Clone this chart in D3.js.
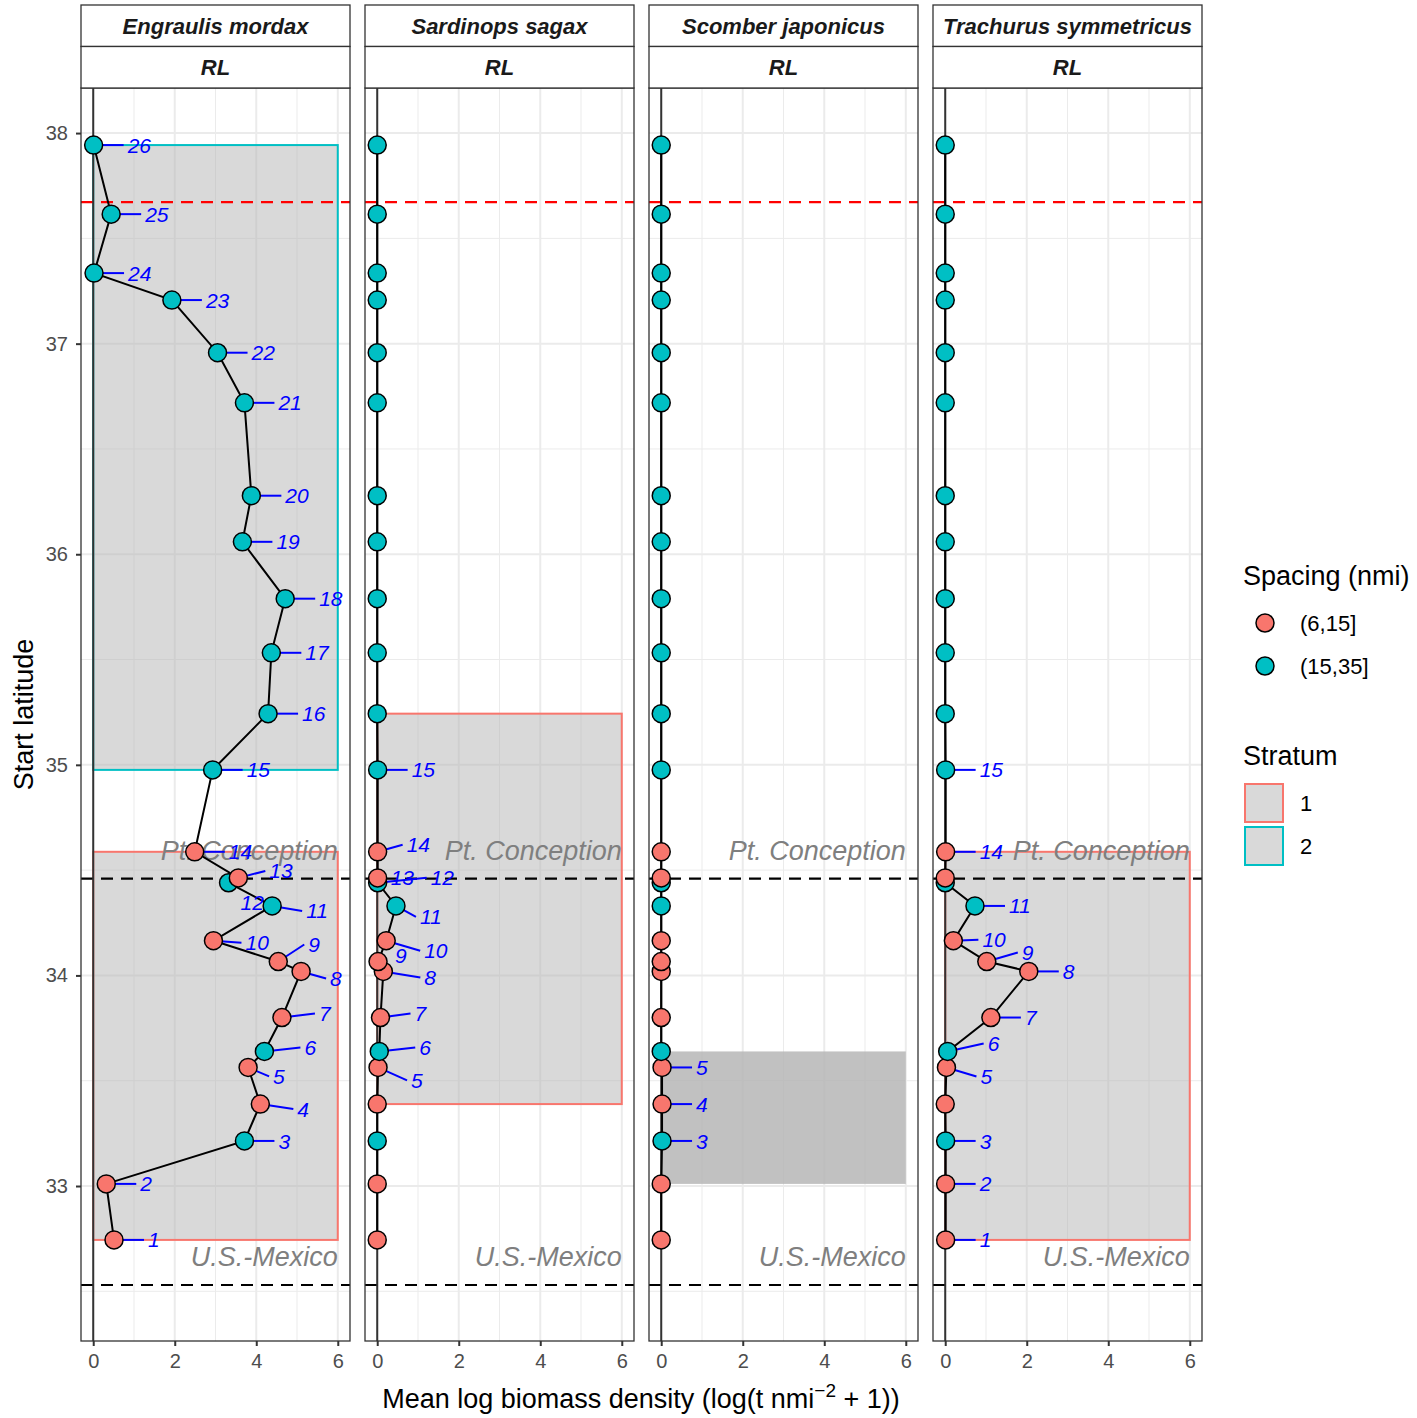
<!DOCTYPE html>
<html lang="en">
<head>
<meta charset="UTF-8">
<title>Biomass by latitude</title>
<script src="https://d3js.org/d3.v7.min.js"></script>
<style>
  body { margin: 0; background: #fff; }
  text { font-family: "Liberation Sans", Arial, Helvetica, sans-serif; }
</style>
</head>
<body>
<svg width="1417" height="1418"></svg>
<script>
// ---- data ----
const species = ["Engraulis mordax", "Sardinops sagax", "Scomber japonicus", "Trachurus symmetricus"];
const transects = d3.range(1, 27);
const latitude = [32.744, 33.010, 33.214, 33.389, 33.563, 33.639, 33.800, 34.019, 34.066, 34.165,
                  34.330, 34.440, 34.463, 34.587, 34.976, 35.243, 35.532, 35.789, 36.059, 36.278,
                  36.719, 36.957, 37.207, 37.335, 37.615, 37.943];
const spacing = ["(6,15]", "(6,15]", "(15,35]", "(6,15]", "(6,15]", "(15,35]", "(6,15]", "(6,15]", "(6,15]", "(6,15]",
                 "(15,35]", "(15,35]", "(6,15]", "(6,15]", "(15,35]", "(15,35]", "(15,35]", "(15,35]", "(15,35]", "(15,35]",
                 "(15,35]", "(15,35]", "(15,35]", "(15,35]", "(15,35]", "(15,35]"];
const biomassEngraulis = [0.51, 0.32, 3.71, 4.10, 3.80, 4.20, 4.63, 5.10, 4.54, 2.95,
                          4.39, 3.32, 3.56, 2.49, 2.93, 4.29, 4.37, 4.71, 3.66, 3.88,
                          3.71, 3.05, 1.93, 0.02, 0.44, 0.01];
const biomassSardinops = [0, 0, 0, 0, 0.02, 0.05, 0.08, 0.15, 0.02, 0.22,
                          0.46, 0.01, 0.01, 0.01, 0.01, 0, 0, 0, 0, 0,
                          0, 0, 0, 0, 0, 0];
const biomassScomber = [0, 0, 0.02, 0.02, 0.02, 0, 0, 0, 0, 0,
                        0, 0, 0, 0, 0, 0, 0, 0, 0, 0,
                        0, 0, 0, 0, 0, 0];
const biomassTrachurus = [0.01, 0.01, 0.01, 0, 0.03, 0.06, 1.12, 2.05, 1.02, 0.20,
                          0.73, 0, 0, 0.01, 0.01, 0, 0, 0, 0, 0,
                          0, 0, 0, 0, 0, 0];
const biomassBySpecies = [biomassEngraulis, biomassSardinops, biomassScomber, biomassTrachurus];

// strata boxes (one row per box)
const strataSpecies = [0, 0, 1, 2, 3];
const strataId = ["2", "1", "1", "3", "1"];
const strataNorth = [37.943, 34.587, 35.243, 33.639, 34.587];
const strataSouth = [34.976, 32.744, 33.389, 33.010, 32.744];
const strataMax = 6;

const boundaryLat = [37.672, 34.46, 32.53];
const boundaryColor = ["red", "black", "black"];
const landmarkName = ["Pt. Conception", "U.S.-Mexico"];
const landmarkLat = [34.46, 32.53];

const spacingLevels = ["(6,15]", "(15,35]"];
const stratumLevels = ["1", "2"];
const xTicks = [0, 2, 4, 6];
const yTicks = [33, 34, 35, 36, 37, 38];

// label nudges (pixels) that ggrepel produced
const nudge = {
  "0-13": [31, -7], "0-12": [12, 20], "0-11": [34, 5], "0-10": [32, 2], "0-9": [30, -17],
  "0-8": [29, 7], "0-7": [37, -4], "0-6": [40, -4], "0-5": [25, 9], "0-4": [37, 5],
  "1-14": [29, -7], "1-13": [13, 0], "1-12": [53, -5], "1-11": [24, 11], "1-10": [38, 10],
  "1-9": [17, -6], "1-8": [41, 6], "1-7": [34, -4], "1-6": [40, -4], "1-5": [33, 13],
  "3-10": [29, -1], "3-9": [35, -9], "3-6": [40, -8], "3-5": [34, 9]
};

// ---- layout ----
const svg = d3.select("svg");
const panelTop = 88, panelBottom = 1341, panelW = 269;
const panelLeft = [81, 365, 649, 933];
const stripH = 41.5;
const red = "#F8766D", cyan = "#00BFC4";
const fillColor = d3.scaleOrdinal().domain(spacingLevels).range([red, cyan]);
const strokeColor = d3.scaleOrdinal().domain(stratumLevels).range([red, cyan]);

const y = d3.scaleLinear().domain([32.264, 38.214]).range([panelBottom, panelTop]);

species.forEach((sp, s) => {
  const left = panelLeft[s];
  const x = d3.scaleLinear().domain([-0.3, 6.3]).range([left, left + panelW]);
  const g = svg.append("g");
  const vals = biomassBySpecies[s];
  const pts = transects.map((t, i) => ({t: t, lat: latitude[i], v: vals[i], sp: spacing[i]}));

  // grid
  const minorX = [1, 3, 5], minorY = d3.range(32.5, 38.6, 1);
  g.selectAll(".gxm").data(minorX).join("line")
    .attr("x1", d => x(d)).attr("x2", d => x(d)).attr("y1", panelTop).attr("y2", panelBottom)
    .attr("stroke", "#ebebeb").attr("stroke-width", 1);
  g.selectAll(".gym").data(minorY).join("line")
    .attr("x1", left).attr("x2", left + panelW).attr("y1", d => y(d)).attr("y2", d => y(d))
    .attr("stroke", "#ebebeb").attr("stroke-width", 1);
  g.selectAll(".gx").data(xTicks).join("line")
    .attr("x1", d => x(d)).attr("x2", d => x(d)).attr("y1", panelTop).attr("y2", panelBottom)
    .attr("stroke", "#ebebeb").attr("stroke-width", 2);
  g.selectAll(".gy").data(yTicks).join("line")
    .attr("x1", left).attr("x2", left + panelW).attr("y1", d => y(d)).attr("y2", d => y(d))
    .attr("stroke", "#ebebeb").attr("stroke-width", 2);

  // strata
  strataSpecies.forEach((ss, k) => {
    if (ss !== s) return;
    const known = stratumLevels.includes(strataId[k]);
    g.append("rect")
      .attr("x", x(0)).attr("width", x(strataMax) - x(0))
      .attr("y", y(strataNorth[k])).attr("height", y(strataSouth[k]) - y(strataNorth[k]))
      .attr("fill", "#b3b3b3").attr("fill-opacity", known ? 0.5 : 0.82)
      .attr("stroke", known ? strokeColor(strataId[k]) : "none").attr("stroke-width", 2);
  });

  // boundary lines
  boundaryLat.forEach((b, k) => {
    g.append("line").attr("x1", left).attr("x2", left + panelW)
      .attr("y1", y(b)).attr("y2", y(b))
      .attr("stroke", boundaryColor[k]).attr("stroke-width", 2.2).attr("stroke-dasharray", "12,8");
  });

  // zero line
  g.append("line").attr("x1", x(0)).attr("x2", x(0)).attr("y1", panelTop).attr("y2", panelBottom)
    .attr("stroke", "#333").attr("stroke-width", 2);

  // landmark text
  landmarkName.forEach((n, k) => {
    g.append("text").attr("x", x(6)).attr("y", y(landmarkLat[k]) - 19)
      .attr("text-anchor", "end").attr("font-size", 27).attr("font-style", "italic")
      .attr("fill", "#7f7f7f").text(n);
  });

  // path
  const line = d3.line().x(d => x(d.v)).y(d => y(d.lat));
  g.append("path").datum(pts.slice().sort((a, b) => a.lat - b.lat))
    .attr("d", line).attr("fill", "none").attr("stroke", "black").attr("stroke-width", 2);

  // label segments + labels
  const labeled = pts.filter(d => d.v > 0);
  labeled.forEach(d => {
    const n = nudge[s + "-" + d.t] || [34, 0];
    const px = x(d.v), py = y(d.lat);
    const lx = px + n[0], ly = py + n[1];
    if (n[0] > 20) {
      g.append("line").attr("x1", px).attr("y1", py).attr("x2", lx - 4).attr("y2", ly)
        .attr("stroke", "blue").attr("stroke-width", 2);
    }
  });

  // points
  g.selectAll("circle").data(pts).join("circle")
    .attr("cx", d => x(d.v)).attr("cy", d => y(d.lat)).attr("r", 9)
    .attr("fill", d => fillColor(d.sp)).attr("stroke", "black").attr("stroke-width", 1.5);

  labeled.forEach(d => {
    const n = nudge[s + "-" + d.t] || [34, 0];
    g.append("text").attr("x", x(d.v) + n[0]).attr("y", y(d.lat) + n[1])
      .attr("dy", "0.36em").attr("font-size", 21).attr("font-style", "italic")
      .attr("fill", "blue").text(d.t);
  });

  // panel border
  g.append("rect").attr("x", left).attr("y", panelTop).attr("width", panelW)
    .attr("height", panelBottom - panelTop).attr("fill", "none").attr("stroke", "#333").attr("stroke-width", 1.3);

  // strips
  [sp, "RL"].forEach((lab, k) => {
    const top = 5 + k * stripH;
    g.append("rect").attr("x", left).attr("y", top).attr("width", panelW).attr("height", stripH)
      .attr("fill", "white").attr("stroke", "#333").attr("stroke-width", 1.3);
    g.append("text").attr("x", left + panelW / 2).attr("y", top + stripH / 2).attr("dy", "0.36em")
      .attr("text-anchor", "middle").attr("font-size", 22).attr("font-weight", "bold")
      .attr("font-style", "italic").attr("fill", "#1a1a1a").text(lab);
  });

  // x axis
  const ax = svg.append("g").attr("transform", `translate(0,${panelBottom})`)
    .call(d3.axisBottom(x).tickValues(xTicks).tickSize(5).tickPadding(8).tickFormat(d3.format("d")));
  ax.select(".domain").remove();
  ax.selectAll(".tick line").attr("stroke", "#333").attr("stroke-width", 2);
  ax.selectAll(".tick text").attr("font-size", 20).attr("fill", "#4d4d4d");

  if (s === 0) {
    const ay = svg.append("g").attr("transform", `translate(${left},0)`)
      .call(d3.axisLeft(y).tickValues(yTicks).tickSize(5).tickPadding(8).tickFormat(d3.format("d")));
    ay.select(".domain").remove();
    ay.selectAll(".tick line").attr("stroke", "#333").attr("stroke-width", 2);
    ay.selectAll(".tick text").attr("font-size", 20).attr("fill", "#4d4d4d");
  }
});

// axis titles
svg.append("text").attr("transform", `translate(33,${(panelTop + panelBottom) / 2}) rotate(-90)`)
  .attr("text-anchor", "middle").attr("font-size", 27).text("Start latitude");
const xt = svg.append("text").attr("x", 641).attr("y", 1408).attr("text-anchor", "middle").attr("font-size", 27);
xt.append("tspan").text("Mean log biomass density (log(t nmi");
xt.append("tspan").attr("dy", -11).attr("font-size", 19).text("\u22122");
xt.append("tspan").attr("dy", 11).text(" + 1))");

// legends
const lg = svg.append("g");
lg.append("text").attr("x", 1243).attr("y", 585).attr("font-size", 27).text("Spacing (nmi)");
spacingLevels.forEach((lev, i) => {
  lg.append("circle").attr("cx", 1265).attr("cy", 623 + i * 43).attr("r", 9)
    .attr("fill", fillColor(lev)).attr("stroke", "black").attr("stroke-width", 1.5);
  lg.append("text").attr("x", 1300).attr("y", 623 + i * 43).attr("dy", "0.36em")
    .attr("font-size", 22).text(lev);
});
lg.append("text").attr("x", 1243).attr("y", 765).attr("font-size", 27).text("Stratum");
stratumLevels.forEach((lev, i) => {
  lg.append("rect").attr("x", 1245).attr("y", 784 + i * 43).attr("width", 38).attr("height", 38)
    .attr("fill", "#d9d9d9").attr("stroke", strokeColor(lev)).attr("stroke-width", 2);
  lg.append("text").attr("x", 1300).attr("y", 803 + i * 43).attr("dy", "0.36em")
    .attr("font-size", 22).text(lev);
});
</script>
</body>
</html>
